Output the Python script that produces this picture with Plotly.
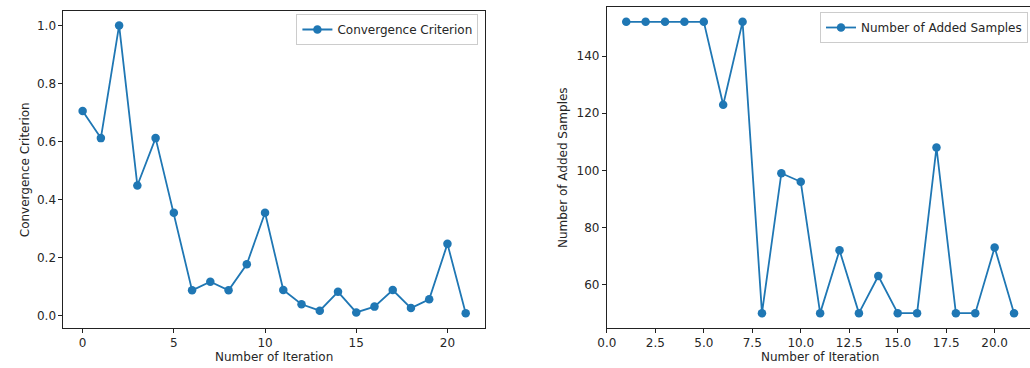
import plotly.graph_objects as go

# Convergence history per iteration
iter_conv = list(range(0, 22))
convergence = [0.705, 0.612, 1.000, 0.449, 0.612, 0.355, 0.088, 0.118, 0.088, 0.178,
               0.355, 0.089, 0.040, 0.018, 0.083, 0.012, 0.032, 0.089, 0.027, 0.057,
               0.248, 0.009]

# Samples added at each iteration
iter_samples = list(range(1, 22))
added_samples = [152, 152, 152, 152, 152, 123, 152, 50, 99, 96,
                 50, 72, 50, 63, 50, 50, 108, 50, 50, 73, 50]

left_ticks = [0, 5, 10, 15, 20]
left_yticks = [0.0, 0.2, 0.4, 0.6, 0.8, 1.0]
right_ticks = [0.0, 2.5, 5.0, 7.5, 10.0, 12.5, 15.0, 17.5, 20.0]
right_yticks = [60, 80, 100, 120, 140]

W, H = 1030, 368
BLUE = "#1f77b4"
FONT = "DejaVu Sans"
TXT = "#262626"
FS = 12

fig = go.Figure()
fig.add_trace(go.Scatter(
    x=iter_conv, y=convergence, mode="lines+markers", name="Convergence Criterion",
    line=dict(color=BLUE, width=1.8), marker=dict(color=BLUE, size=8.5),
    xaxis="x", yaxis="y", legend="legend", showlegend=True))
fig.add_trace(go.Scatter(
    x=iter_samples, y=added_samples, mode="lines+markers", name="Number of Added Samples",
    line=dict(color=BLUE, width=1.8), marker=dict(color=BLUE, size=8.5),
    xaxis="x2", yaxis="y2", legend="legend2", showlegend=True))


def pad(lo, hi, frac=0.05):
    d = hi - lo
    return [lo - frac * d, hi + frac * d]


ax_common = dict(showgrid=False, zeroline=False, showline=True, linecolor="#222",
                 linewidth=1, ticks="outside", ticklen=4, tickwidth=1, tickcolor="#222",
                 tickfont=dict(family=FONT, size=FS, color=TXT))

x1_lo, x1_hi = 54 / W, 479.5 / W
x2_lo, x2_hi = 602.7 / W, 1.0
y1_lo, y1_hi = 1 - 327.7 / H, 1 - 11 / H
y2_lo, y2_hi = 1 - 327.7 / H, 1 - 7.3 / H

x2_scale = (994.3 - 602.7) / 20.0
x2_max = (W - 602.7) / x2_scale

legend_style = dict(xanchor="right", yanchor="top",
                    bgcolor="rgba(255,255,255,0.8)", bordercolor="#cccccc", borderwidth=1,
                    font=dict(family=FONT, size=FS, color=TXT), itemwidth=30,
                    tracegroupgap=0)

fig.update_layout(
    width=W, height=H, margin=dict(l=0, r=0, t=0, b=0), showlegend=True,
    paper_bgcolor="white", plot_bgcolor="white",
    font=dict(family=FONT, size=FS, color=TXT),
    xaxis=dict(domain=[x1_lo, x1_hi], range=pad(0, 21), tickvals=left_ticks,
               ticktext=[str(v) for v in left_ticks], mirror=True, anchor="y", **ax_common),
    yaxis=dict(domain=[y1_lo, y1_hi], range=pad(min(convergence), max(convergence)),
               tickvals=left_yticks, ticktext=[f"{v:.1f}" for v in left_yticks],
               mirror=True, anchor="x", **ax_common),
    xaxis2=dict(domain=[x2_lo, x2_hi], range=[0, x2_max], tickvals=right_ticks,
                ticktext=[f"{v:.1f}" for v in right_ticks], mirror=True, anchor="y2",
                **ax_common),
    yaxis2=dict(domain=[y2_lo, y2_hi], range=pad(min(added_samples), max(added_samples)),
                tickvals=right_yticks, ticktext=[str(v) for v in right_yticks],
                mirror=False, anchor="x2", **ax_common),
    legend=dict(x=473 / W, y=1 - 14 / H, **legend_style),
    legend2=dict(x=1028 / W, y=1 - 12 / H, **legend_style),
)

title_font = dict(family=FONT, size=FS, color=TXT)
fig.add_annotation(text="Number of Iteration", xref="paper", yref="paper",
                   x=266.7 / W, y=1 - 357 / H, showarrow=False, font=title_font,
                   xanchor="center", yanchor="middle")
fig.add_annotation(text="Number of Iteration", xref="paper", yref="paper",
                   x=818 / W, y=1 - 357 / H, showarrow=False, font=title_font,
                   xanchor="center", yanchor="middle")
fig.add_annotation(text="Convergence Criterion", xref="paper", yref="paper",
                   x=15 / W, y=(y1_lo + y1_hi) / 2, showarrow=False, font=title_font,
                   textangle=-90, xanchor="center", yanchor="middle")
fig.add_annotation(text="Number of Added Samples", xref="paper", yref="paper",
                   x=558 / W, y=(y2_lo + y2_hi) / 2, showarrow=False, font=title_font,
                   textangle=-90, xanchor="center", yanchor="middle")

fig.write_html("out.html")
